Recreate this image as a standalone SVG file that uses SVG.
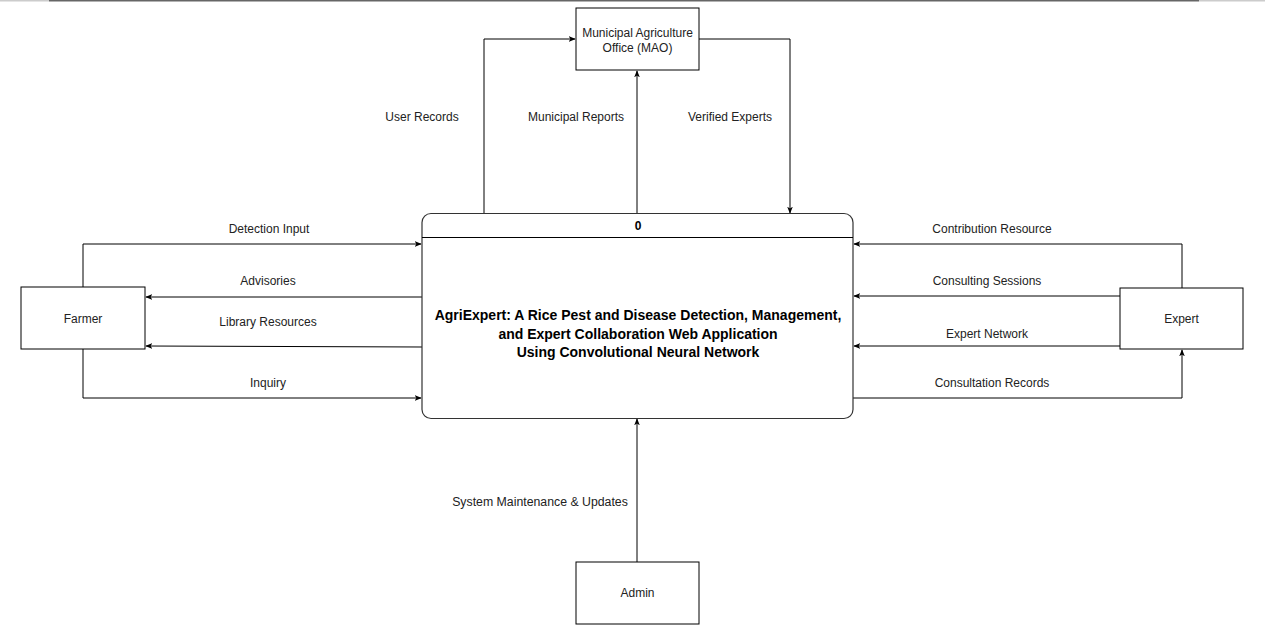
<svg xmlns="http://www.w3.org/2000/svg" width="1274" height="638" viewBox="0 0 1274 638">
<style>
.box{fill:#fff;stroke:#000;stroke-width:1}
.proc{fill:#fff;stroke:#333;stroke-width:1.2}
.lbl{font-family:"Liberation Sans",Arial,sans-serif;font-size:12px;fill:#222;text-anchor:middle}
.title{font-family:"Liberation Sans",Arial,sans-serif;font-size:14px;font-weight:bold;fill:#000;text-anchor:middle}
.zero{font-family:"Liberation Sans",Arial,sans-serif;font-size:12px;font-weight:bold;fill:#000;text-anchor:middle}
.ln{fill:none;stroke:#000;stroke-width:1;marker-end:url(#ah)}
</style>
<defs>
<marker id="ah" viewBox="0 0 10 10" refX="9" refY="5" markerWidth="7" markerHeight="7" markerUnits="userSpaceOnUse" orient="auto">
<path d="M0,1 L10,5 L0,9 L2.5,5 Z" fill="#000"/>
</marker>
</defs>
<rect width="1274" height="638" fill="#fff"/>
<line x1="0" y1="0.8" x2="49" y2="0.8" stroke="#ccc" stroke-width="1.6"/>
<line x1="49" y1="0.8" x2="1199" y2="0.8" stroke="#666" stroke-width="1.6"/>
<line x1="1199" y1="0.8" x2="1265" y2="0.8" stroke="#ccc" stroke-width="1.6"/>

<g id="connectors">
<path class="ln" d="M484,213 V39 H575"/>
<path class="ln" d="M637,213 V71"/>
<path class="ln" d="M699,39 H790 V213"/>
<path class="ln" d="M83,287 V244 H421"/>
<path class="ln" d="M422,297 H146"/>
<path class="ln" d="M422,347 L146,346"/>
<path class="ln" d="M83,349 V398 H421"/>
<path class="ln" d="M1182,288 V244 H854"/>
<path class="ln" d="M1120,296 H854"/>
<path class="ln" d="M1120,346 H854"/>
<path class="ln" d="M853,398 H1182 V350"/>
<path class="ln" d="M637,562 V419"/>
<text class="lbl" x="422" y="121">User Records</text>
<text class="lbl" x="576" y="121">Municipal Reports</text>
<text class="lbl" x="730" y="121">Verified Experts</text>
<text class="lbl" x="269" y="233">Detection Input</text>
<text class="lbl" x="268" y="285">Advisories</text>
<text class="lbl" x="268" y="326">Library Resources</text>
<text class="lbl" x="268" y="387">Inquiry</text>
<text class="lbl" x="992" y="233">Contribution Resource</text>
<text class="lbl" x="987" y="285">Consulting Sessions</text>
<text class="lbl" x="987" y="338">Expert Network</text>
<text class="lbl" x="992" y="387">Consultation Records</text>
<text class="lbl" x="540" y="506" style="font-size:12.3px">System Maintenance &amp; Updates</text>
</g>

<g id="process0">
<rect class="proc" x="422" y="213.5" width="431" height="205" rx="9"/>
<line x1="422" y1="237.5" x2="853" y2="237.5" stroke="#000" stroke-width="1"/>
<text class="zero" x="638" y="230">0</text>
<text class="title" x="638" y="320">AgriExpert: A Rice Pest and Disease Detection, Management,</text>
<text class="title" x="638" y="338.5">and Expert Collaboration Web Application</text>
<text class="title" x="638" y="357">Using Convolutional Neural Network</text>
</g>

<g id="mao">
<rect class="box" x="576" y="8" width="123" height="62"/>
<text class="lbl" x="637.5" y="37">Municipal Agriculture</text>
<text class="lbl" x="637.5" y="52">Office (MAO)</text>
</g>

<g id="farmer">
<rect class="box" x="21" y="287" width="124" height="62"/>
<text class="lbl" x="83" y="323">Farmer</text>
</g>

<g id="expert">
<rect class="box" x="1120" y="288" width="123" height="61"/>
<text class="lbl" x="1181.5" y="323">Expert</text>
</g>

<g id="admin">
<rect class="box" x="576" y="562" width="123" height="62"/>
<text class="lbl" x="637.5" y="597">Admin</text>
</g>
</svg>
